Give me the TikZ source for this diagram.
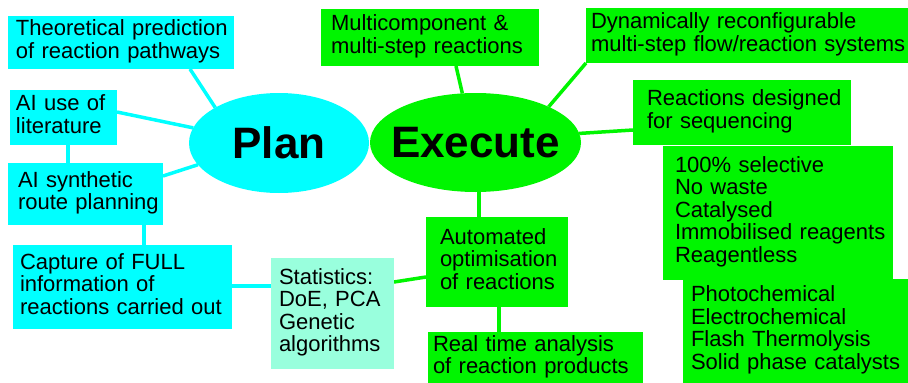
\documentclass[tikz,border=0pt]{standalone}
\usepackage{fontspec}
\setmainfont{Liberation Sans}
\usetikzlibrary{backgrounds,shapes.geometric}
\definecolor{cy}{RGB}{0,255,255}
\definecolor{gr}{RGB}{0,245,0}
\definecolor{aq}{RGB}{153,255,221}
\newcommand{\rowsof}[1]{\begin{tabular}{@{}l@{}}#1\end{tabular}}
\tikzset{
  box/.style={anchor=north west, align=left, inner ysep=0pt, outer sep=0pt,
    font=\fontsize{22}{22}\selectfont},
  hub/.style={ellipse, inner sep=0pt, outer sep=0pt, font=\fontsize{44}{44}\selectfont\bfseries},
  cyline/.style={draw=cy, line width=3.5pt},
  grline/.style={draw=gr, line width=3.5pt}
}
\begin{document}
\begin{tikzpicture}[x=1pt,y=-1pt]
\useasboundingbox (0,0) rectangle (908,383);
% hubs
\node[hub, fill=cy, minimum width=180, minimum height=100] (plan) at (279,143) {\makebox[0pt]{Plan}};
\node[hub, fill=gr, minimum width=211, minimum height=99] (execute) at (475.5,142.5) {\makebox[0pt]{Execute}};
% plan boxes
\node[box, fill=cy, minimum width=226, minimum height=53, inner xsep=8, text width=210] (theo) at (8,16) {\rowsof{Theoretical prediction\\of reaction pathways}};
\node[box, fill=cy, minimum width=107, minimum height=55, inner xsep=6, text width=95] (ailit) at (10,90) {\rowsof{AI use of\\literature}};
\node[box, fill=cy, minimum width=155, minimum height=62, inner xsep=10, text width=135] (aisyn) at (8,163) {\rowsof{AI synthetic\\route planning}};
\node[box, fill=cy, minimum width=219, minimum height=84, inner xsep=7, text width=205] (capture) at (13,245) {\rowsof{Capture of FULL\\information of\\reactions carried out}};
\node[box, fill=aq, minimum width=123, minimum height=111, inner xsep=8, text width=107] (stats) at (271,258) {\rowsof{Statistics:\\DoE, PCA\\Genetic\\algorithms}};
% execute boxes
\node[box, fill=gr, minimum width=218, minimum height=57, inner xsep=10, text width=198] (multi) at (321,9) {\rowsof{Multicomponent \&\\multi-step reactions}};
\node[box, fill=gr, minimum width=322, minimum height=55, inner xsep=5, text width=312] (dyn) at (586,8) {\rowsof{Dynamically reconfigurable\\multi-step flow/reaction systems}};
\node[box, fill=gr, minimum width=218, minimum height=65, inner xsep=14, text width=190] (reac) at (633,80) {\rowsof{Reactions designed\\for sequencing}};
\node[box, fill=gr, minimum width=230, minimum height=134, inner xsep=12, text width=206] (sel) at (663,146) {\rowsof{100\% selective\\No waste\\Catalysed\\Immobilised reagents\\Reagentless}};
\node[box, fill=gr, minimum width=225, minimum height=104, inner xsep=8, text width=209] (photo) at (683,279) {\rowsof{Photochemical\\Electrochemical\\Flash Thermolysis\\Solid phase catalysts}};
\node[box, fill=gr, minimum width=142, minimum height=90, inner xsep=14, text width=114] (auto) at (426,217) {\rowsof{Automated\\optimisation\\of reactions}};
\node[box, fill=gr, minimum width=215, minimum height=52, inner xsep=5, text width=205] (realtime) at (428,332) {\rowsof{Real time analysis\\of reaction products}};
% connectors
\begin{scope}[on background layer]
\draw[cyline] (theo.south -| 190,0) -- (plan.151);
\draw[cyline] (ailit.east |- 0,112) -- (plan.170);
\draw[cyline] (ailit.south -| 68,0) -- (aisyn.north -| 68,0);
\draw[cyline] (aisyn.east |- 0,176) -- (plan.195);
\draw[cyline] (aisyn.south -| 144,0) -- (capture.north -| 144,0);
\draw[cyline] (capture.east |- 0,286) -- (stats.west |- 0,286);
\draw[grline] (stats.east |- 0,282) -- (auto.west |- 0,277);
\draw[grline] (multi.south -| 456,0) -- (execute.105);
\draw[grline] (dyn.south west) -- (execute.26);
\draw[grline] (reac.west |- 0,130) -- (execute.5);
\draw[grline] (execute.south -| 479,0) -- (auto.north -| 479,0);
\draw[grline] (auto.south -| 499,0) -- (realtime.north -| 499,0);
\end{scope}
\end{tikzpicture}
\end{document}
